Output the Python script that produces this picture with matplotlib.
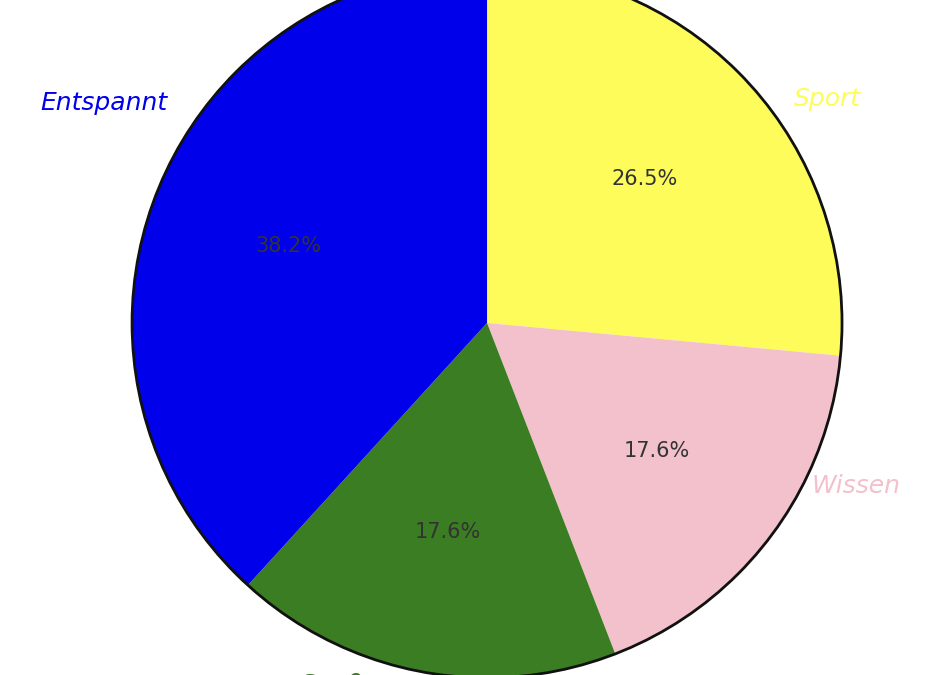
import matplotlib.pyplot as plt
from matplotlib.patches import Circle

labels = ["Sport", "Wissen", "Spaß", "Entspannt"]
values = [9, 6, 6, 13]
colors = ["#fdfc5a", "#f3c1cb", "#3a7d23", "#0000ea"]
label_pos = [(0.96, 0.63), (1.04, -0.46), (-0.44, -1.02), (-1.08, 0.62)]

fig = plt.figure(figsize=(9.51, 6.75), dpi=100)
ax = fig.add_axes([0, 0, 1, 1])
wedges, texts, autotexts = ax.pie(values, colors=colors, startangle=90, counterclock=False,
                                  autopct="%1.1f%%", pctdistance=0.6, radius=1.0,
                                  textprops={"fontsize": 15, "color": "#333333"})
ax.add_patch(Circle((0, 0), 1.0, fill=False, edgecolor="#111111", linewidth=2))

for lab, col, (x, y) in zip(labels, colors, label_pos):
    ax.text(x, y, lab, color=col, fontsize=18, style="italic", ha="center", va="center",
            family="DejaVu Sans", fontweight="light")

ax.set_xlim(-1.372, 1.307)
ax.set_ylim(-0.992, 0.910)
ax.set_aspect("auto")
ax.axis("off")
fig.savefig("out.png", dpi=100)
